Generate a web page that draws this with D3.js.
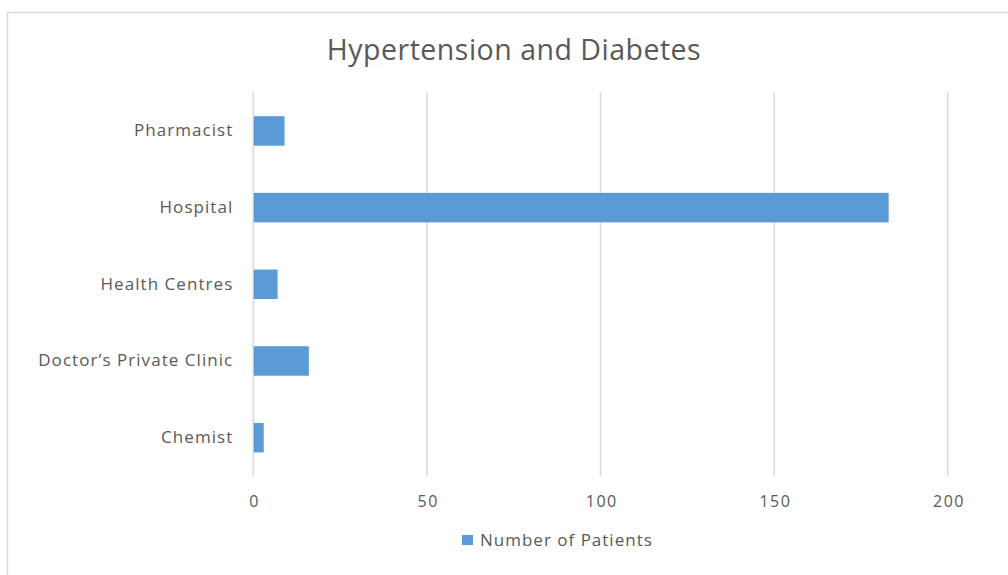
<!DOCTYPE html>
<html>
<head>
<meta charset="utf-8">
<script src="https://cdn.jsdelivr.net/npm/d3@7"></script>
<style>
  html, body { margin: 0; padding: 0; background: #ffffff; }
  svg { display: block; }
  text { font-family: "Open Sans", "Noto Sans", sans-serif; fill: #595959; }
</style>
</head>
<body>
<svg id="chart" width="1008" height="575"></svg>
<script>
// Patient counts by place of care (bottom-to-top as listed in the source sheet)
const categories = ["Chemist", "Doctor\u2019s Private Clinic", "Health Centres", "Hospital", "Pharmacist"];
const patients = [3, 16, 7, 183, 9];
const xTicks = [0, 50, 100, 150, 200];
const chartTitle = "Hypertension and Diabetes";
const seriesName = "Number of Patients";

const svg = d3.select("#chart");
const W = 1008, H = 575;
const plot = { left: 253.3, right: 947.7, top: 92.6, bottom: 476 };
const barColor = "#5b9bd5";
const gridColor = "#d9d9d9";

// chart frame
svg.append("rect")
  .attr("x", 7.5).attr("y", 12.5)
  .attr("width", W + 10).attr("height", H + 10)
  .attr("fill", "#ffffff")
  .attr("stroke", gridColor).attr("stroke-width", 1.5);

const x = d3.scaleLinear().domain([0, 200]).range([plot.left, plot.right]);
// first category sits at the bottom
const y = d3.scaleBand()
  .domain(categories.slice().reverse())
  .range([plot.top, plot.bottom])
  .paddingInner(0.615)
  .paddingOuter(0.3075);

// vertical gridlines
svg.append("g")
  .selectAll("line")
  .data(xTicks)
  .join("line")
  .attr("x1", d => x(d)).attr("x2", d => x(d))
  .attr("y1", plot.top).attr("y2", plot.bottom)
  .attr("stroke", gridColor).attr("stroke-width", 1.5);

// bars
svg.append("g")
  .selectAll("rect")
  .data(categories.map((c, i) => ({ c, v: patients[i] })))
  .join("rect")
  .attr("x", x(0) + 0.5)
  .attr("y", d => y(d.c))
  .attr("width", d => x(d.v) - x(0) - 0.5)
  .attr("height", y.bandwidth())
  .attr("fill", barColor);

// category axis
const yAxis = svg.append("g")
  .attr("transform", `translate(${plot.left},0)`)
  .call(d3.axisLeft(y).tickSize(0).tickPadding(20));
yAxis.select(".domain").remove();
yAxis.selectAll("text")
  .style("font-family", "'Open Sans', sans-serif")
  .style("font-size", "17px")
  .style("letter-spacing", "1.05px")
  .attr("fill", "#5f5f5f");

// value axis
const xAxis = svg.append("g")
  .attr("transform", `translate(0,${plot.bottom})`)
  .call(d3.axisBottom(x).tickValues(xTicks).tickSize(0).tickPadding(20));
xAxis.select(".domain").remove();
xAxis.selectAll("text")
  .attr("dx", "0.75")
  .style("font-family", "'Open Sans', sans-serif")
  .style("font-size", "16px")
  .style("letter-spacing", "1.5px")
  .attr("fill", "#5f5f5f");

// title
svg.append("text")
  .attr("x", 514).attr("y", 60)
  .attr("text-anchor", "middle")
  .style("font-size", "28.5px")
  .style("letter-spacing", "0.5px")
  .attr("fill", "#5f5f5f")
  .text(chartTitle);

// legend
const legend = svg.append("g").attr("transform", "translate(462,535)");
legend.append("rect")
  .attr("x", 0).attr("y", 0)
  .attr("width", 11).attr("height", 10)
  .attr("fill", barColor);
legend.append("text")
  .attr("x", 18).attr("y", 11)
  .style("font-size", "17px")
  .style("letter-spacing", "1px")
  .attr("fill", "#5f5f5f")
  .text(seriesName);
</script>
</body>
</html>
